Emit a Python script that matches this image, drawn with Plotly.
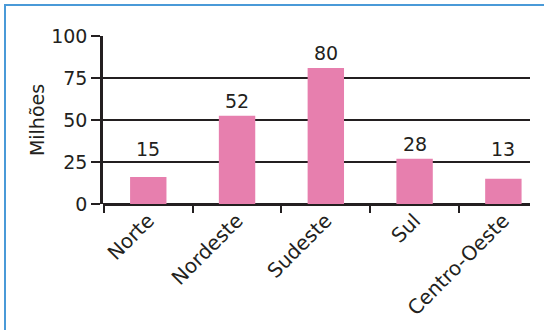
import plotly.graph_objects as go

regions = ["Norte", "Nordeste", "Sudeste", "Sul", "Centro-Oeste"]
bar_heights = [16, 52.5, 81, 27, 15]
value_labels = ["15", "52", "80", "28", "13"]
y_ticks = [0, 25, 50, 75, 100]

W, H = 544, 330
L, R, T, B = 103, 530, 36, 204
FONT = "DejaVu Sans, Verdana, sans-serif"
FS = 20
FS_NUM = 19
TXT = "#231f20"
BAR = "#E77FAE"
FRAME = "#4A9AD8"

fig = go.Figure()
fig.add_trace(go.Bar(x=regions, y=bar_heights, width=0.41,
                     marker=dict(color=BAR, line=dict(width=0)),
                     hoverinfo="skip"))

for reg, h, lab in zip(regions, bar_heights, value_labels):
    fig.add_annotation(x=reg, y=max(h, 24) + 9, text=lab, showarrow=False,
                       xanchor="center", yanchor="middle",
                       font=dict(family=FONT, size=FS_NUM, color=TXT))

def px_x(p):
    return (p - L) / (R - L)

def px_y(p):
    return (B - p) / (B - T)

# frame lines (top and left)
fig.add_shape(type="line", xref="paper", yref="paper",
              x0=px_x(4), x1=px_x(545), y0=px_y(5), y1=px_y(5),
              line=dict(color=FRAME, width=2))
fig.add_shape(type="line", xref="paper", yref="paper",
              x0=px_x(5), x1=px_x(5), y0=px_y(4), y1=px_y(331),
              line=dict(color=FRAME, width=2))

fig.update_layout(
    width=W, height=H,
    margin=dict(l=L, r=W - R, t=T, b=H - B, pad=0, autoexpand=False),
    paper_bgcolor="white", plot_bgcolor="white",
    showlegend=False, bargap=0.59,
    font=dict(family=FONT, size=FS, color=TXT),
)
fig.update_xaxes(
    type="category", range=[-0.51, 4.30], automargin=False,
    tickangle=-45, tickson="boundaries",
    ticks="outside", ticklen=8, tickwidth=2, tickcolor=TXT,
    showline=False, showgrid=False, zeroline=False,
    tickfont=dict(family=FONT, size=FS, color=TXT),
)
fig.update_yaxes(
    range=[0, 100], tickvals=y_ticks, automargin=False,
    ticks="outside", ticklen=9, tickwidth=2, tickcolor=TXT,
    showline=True, linecolor=TXT, linewidth=2.5,
    showgrid=True, gridcolor=TXT, gridwidth=2,
    zeroline=True, zerolinecolor=TXT, zerolinewidth=2.5,
    tickfont=dict(family=FONT, size=FS_NUM, color=TXT),
    title=dict(text="Milhões", standoff=2,
               font=dict(family=FONT, size=FS_NUM, color=TXT)),
)

fig.write_html("out.html", config={"displayModeBar": False},
               post_script="document.body.style.margin='0';document.body.style.overflow='hidden';")
